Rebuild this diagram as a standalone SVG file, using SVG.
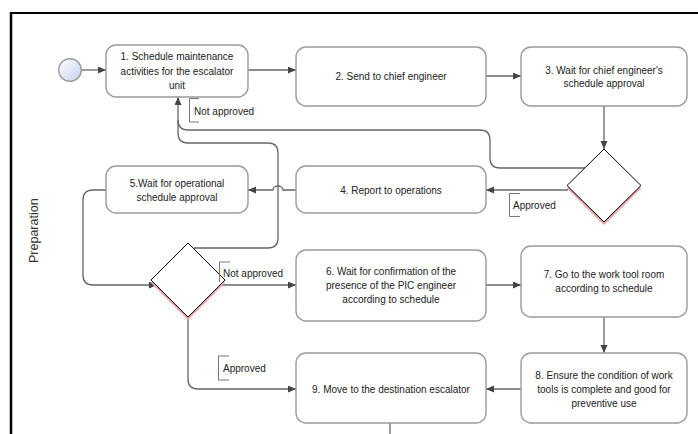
<svg xmlns="http://www.w3.org/2000/svg" width="698" height="434" viewBox="0 0 698 434">
<style>
.node rect{fill:#fff;stroke:#9b9b9b;stroke-width:1.4}
.node text,.lbl{font-family:"Liberation Sans",Arial,sans-serif;font-size:10px;fill:#222;text-anchor:middle}
.lbl{text-anchor:start}
.con path{fill:none;stroke:#666;stroke-width:1.3}
.br{fill:none;stroke:#777;stroke-width:1}
.dia{fill:#fff;stroke:#000;stroke-width:1}
.sh{fill:#e6a3a3;stroke:none}
</style>
<defs>
<marker id="ah" markerUnits="userSpaceOnUse" markerWidth="9" markerHeight="8" refX="8" refY="3.5" orient="auto">
<path d="M0,0 L8,3.5 L0,7 z" fill="#444"/>
</marker>
<linearGradient id="cg" x1="0" y1="0" x2="1" y2="1">
<stop offset="0" stop-color="#ffffff"/>
<stop offset="1" stop-color="#c5d2ee"/>
</linearGradient>
</defs>
<rect width="698" height="434" fill="#fff"/>
<path d="M10,13 H698" stroke="#000" stroke-width="2"/>
<path d="M11,12 V434" stroke="#000" stroke-width="2.5"/>
<text x="38" y="263" transform="rotate(-90 38 263)" font-family="Liberation Sans,Arial,sans-serif" font-size="12.5" fill="#333">Preparation</text>

<g id="connectors" class="con">
<path d="M82,70 H106" marker-end="url(#ah)"/>
<path d="M248,70 H296" marker-end="url(#ah)"/>
<path d="M486,76 H521" marker-end="url(#ah)"/>
<path d="M604,106 V149" marker-end="url(#ah)"/>
<path d="M568,190 H486" marker-end="url(#ah)"/>
<path d="M296,190 H283 A5,4 0 0 0 273,190 H248" marker-end="url(#ah)"/>
<path d="M585,168 H500 Q490,168 490,158 V140 Q490,130 480,130 H188 Q178,130 178,120 V97" marker-end="url(#ah)"/>
<path d="M194,248 H268 Q278,248 278,238 V153 Q278,143 268,143 H188 Q178,143 178,133 V120"/>
<path d="M106,190 H93 Q83,190 83,200 V275 Q83,285 93,285 H157" marker-end="url(#ah)"/>
<path d="M221,285 H296" marker-end="url(#ah)"/>
<path d="M486,285 H521" marker-end="url(#ah)"/>
<path d="M604,317 V353" marker-end="url(#ah)"/>
<path d="M521,389 H486" marker-end="url(#ah)"/>
<path d="M188,317 V379 Q188,389 198,389 H296" marker-end="url(#ah)"/>
<path d="M390,423 V434"/>
</g>

<g id="start">
<circle cx="70" cy="70" r="11.3" fill="url(#cg)" stroke="#9a9a9a" stroke-width="1.4"/>
</g>

<g id="n1" class="node">
<rect x="106" y="45" width="142" height="52" rx="10"/>
<text x="177" y="60">1. Schedule maintenance</text>
<text x="177" y="74.5">activities for the escalator</text>
<text x="177" y="88.5">unit</text>
</g>
<g id="n2" class="node">
<rect x="296" y="47" width="190" height="59" rx="10"/>
<text x="391" y="79.5">2. Send to chief engineer</text>
</g>
<g id="n3" class="node">
<rect x="521" y="47" width="166" height="59" rx="10"/>
<text x="604" y="73.5">3. Wait for chief engineer's</text>
<text x="604" y="87">schedule approval</text>
</g>
<g id="d1">
<path class="sh" d="M604,152 L641,188.5 L604,225 L567,188.5 z"/>
<path class="dia" d="M604,149 L641,185.5 L604,222 L567,185.5 z"/>
</g>
<g id="n4" class="node">
<rect x="296" y="166" width="190" height="47" rx="10"/>
<text x="391" y="194">4. Report to operations</text>
</g>
<g id="n5" class="node">
<rect x="106" y="166" width="142" height="47" rx="10"/>
<text x="177" y="186.8">5.Wait for operational</text>
<text x="177" y="200.8">schedule approval</text>
</g>
<g id="d2">
<path class="sh" d="M188,246 L225,283 L188,320 L151,283 z"/>
<path class="dia" d="M188,243 L225,280 L188,317 L151,280 z"/>
</g>
<g id="n6" class="node">
<rect x="296" y="250" width="190" height="71" rx="10"/>
<text x="391" y="275">6. Wait for confirmation of the</text>
<text x="391" y="289">presence of the PIC engineer</text>
<text x="391" y="303">according to schedule</text>
</g>
<g id="n7" class="node">
<rect x="521" y="246" width="166" height="71" rx="10"/>
<text x="604" y="277.8">7. Go to the work tool room</text>
<text x="604" y="292">according to schedule</text>
</g>
<g id="n8" class="node">
<rect x="521" y="353" width="166" height="70" rx="10"/>
<text x="604" y="378.5">8. Ensure the condition of work</text>
<text x="604" y="392.5">tools is complete and good for</text>
<text x="604" y="406.8">preventive use</text>
</g>
<g id="n9" class="node">
<rect x="296" y="353" width="190" height="70" rx="10"/>
<text x="391" y="392.5">9. Move to the destination escalator</text>
</g>

<g id="labels">
<path class="br" d="M199,98.5 H189.5 V122 H199"/>
<text class="lbl" x="194" y="114.5">Not approved</text>
<path class="br" d="M520,193.5 H509.5 V216.5 H520"/>
<text class="lbl" x="513" y="208.5">Approved</text>
<path class="br" d="M230,262 H219.5 V282"/>
<text class="lbl" x="223" y="277">Not approved</text>
<path class="br" d="M229,356 H218.5 V380 H229"/>
<text class="lbl" x="223" y="372">Approved</text>
</g>
</svg>
